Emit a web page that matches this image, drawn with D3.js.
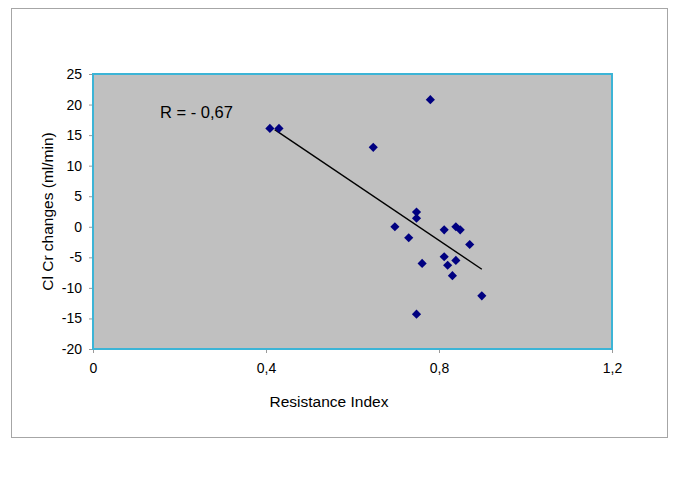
<!DOCTYPE html>
<html>
<head>
<meta charset="utf-8">
<script src="https://cdn.jsdelivr.net/npm/d3@7"></script>
<style>
  body { margin: 0; background: #fff; }
  svg { display: block; }
  text { font-family: "Liberation Sans", Arial, Helvetica, sans-serif; fill: #000; }
</style>
</head>
<body>
<svg id="chart" width="685" height="480"></svg>
<script>
// ---- data ----
const resistanceIndex = [0.409, 0.430, 0.648, 0.780, 0.748, 0.748, 0.698, 0.730, 0.812, 0.839, 0.849, 0.871, 0.812, 0.761, 0.839, 0.820, 0.831, 0.899, 0.748];
const clCrChanges     = [16.1, 16.1, 13.0, 20.8, 2.4, 1.4, 0.0, -1.8, -0.5, 0.0, -0.5, -2.9, -4.9, -6.0, -5.5, -6.3, -8.0, -11.3, -14.3];
const trendX = [0.42, 0.899];
const trendY = [15.9, -6.95];
const xTicks = [0, 0.4, 0.8, 1.2];
const xTickLabels = ["0", "0,4", "0,8", "1,2"];
const yTicks = [-20, -15, -10, -5, 0, 5, 10, 15, 20, 25];
const xTitle = "Resistance Index";
const yTitle = "Cl Cr changes (ml/min)";
const annotation = "R = - 0,67";

// ---- layout ----
const svg = d3.select("#chart");
const plot = { left: 93, right: 612, top: 74, bottom: 349 };

svg.append("rect")
  .attr("x", 11.5).attr("y", 8.5).attr("width", 656).attr("height", 429)
  .attr("fill", "#fff").attr("stroke", "#a6a6a6").attr("stroke-width", 1);

const x = d3.scaleLinear().domain([0, 1.2]).range([plot.left, plot.right]);
const y = d3.scaleLinear().domain([-20, 25]).range([plot.bottom, plot.top]);

svg.append("rect")
  .attr("x", plot.left).attr("y", plot.top)
  .attr("width", plot.right - plot.left).attr("height", plot.bottom - plot.top)
  .attr("fill", "#c0c0c0");

// axes
const xAxis = d3.axisBottom(x).tickValues(xTicks).tickSize(4).tickPadding(10)
  .tickFormat((d, i) => xTickLabels[i]);
const gx = svg.append("g").attr("transform", `translate(0,${plot.bottom})`).call(xAxis);
gx.select(".domain").remove();
gx.selectAll(".tick line").attr("stroke", "#9a9a9a");
gx.selectAll(".tick text").attr("font-size", 14).attr("font-family", "Liberation Sans, Arial, sans-serif");

const yAxis = d3.axisLeft(y).tickValues(yTicks).tickSize(4).tickPadding(7)
  .tickFormat(d => String(d));
const gy = svg.append("g").attr("transform", `translate(${plot.left},0)`).call(yAxis);
gy.select(".domain").remove();
gy.selectAll(".tick line").attr("stroke", "#9a9a9a");
gy.selectAll(".tick text").attr("font-size", 14).attr("font-family", "Liberation Sans, Arial, sans-serif");

// plot border
svg.append("rect")
  .attr("x", plot.left).attr("y", plot.top)
  .attr("width", plot.right - plot.left).attr("height", plot.bottom - plot.top)
  .attr("fill", "none").attr("stroke", "#3cb4d6").attr("stroke-width", 2);

// trend line
svg.append("line")
  .attr("x1", x(trendX[0])).attr("y1", y(trendY[0]))
  .attr("x2", x(trendX[1])).attr("y2", y(trendY[1]))
  .attr("stroke", "#000").attr("stroke-width", 1.4);

// points
const diamond = d3.symbol().type(d3.symbolSquare).size(42);
svg.append("g").selectAll("path")
  .data(resistanceIndex.map((v, i) => [v, clCrChanges[i]]))
  .join("path")
  .attr("d", diamond)
  .attr("transform", d => `translate(${x(d[0])},${y(d[1])}) rotate(45)`)
  .attr("fill", "#000080");

// annotation
svg.append("text")
  .attr("x", 160).attr("y", 118)
  .attr("font-size", 16.5)
  .text(annotation);

// titles
svg.append("text")
  .attr("x", 329).attr("y", 407)
  .attr("text-anchor", "middle")
  .attr("font-size", 15.5)
  .text(xTitle);

svg.append("text")
  .attr("transform", `translate(53,${(plot.top + plot.bottom) / 2}) rotate(-90)`)
  .attr("text-anchor", "middle")
  .attr("font-size", 15.5)
  .text(yTitle);
</script>
</body>
</html>
